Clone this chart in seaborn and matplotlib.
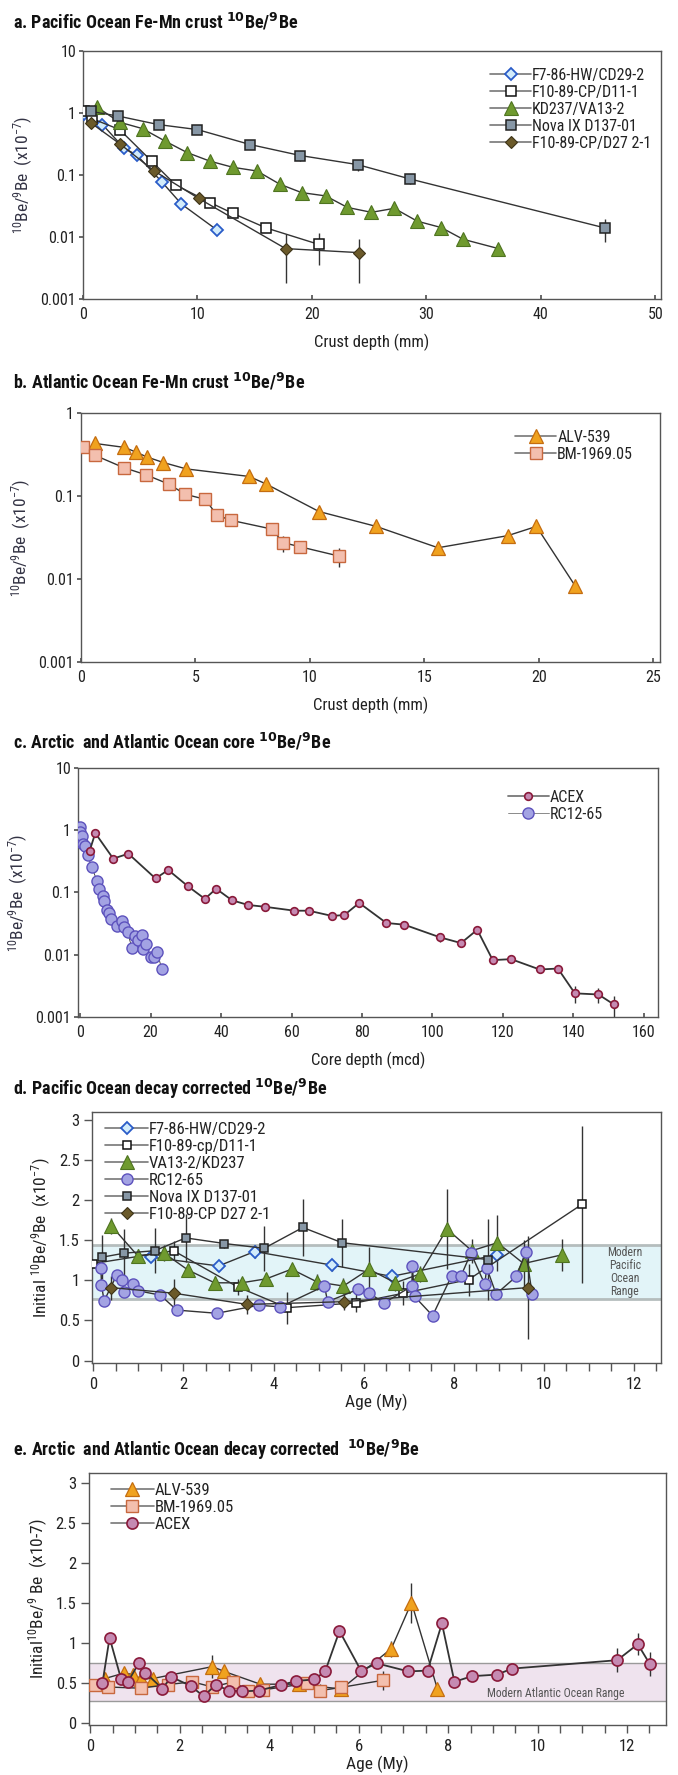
import numpy as np
import pandas as pd
import matplotlib
matplotlib.use("Agg")
import matplotlib.pyplot as plt
from matplotlib import font_manager as fm
from matplotlib.ticker import FixedLocator, FuncFormatter, MultipleLocator, NullLocator
import seaborn as sns

# ---------------- data ----------------
# a. Pacific Fe-Mn crusts (depth mm, 10Be/9Be x1e-7)
a_f7_x = [0.1, 1.7, 3.6, 4.7, 6.9, 8.6, 11.7]
a_f7_y = [0.95, 0.65, 0.27, 0.21, 0.077, 0.034, 0.013]
a_f7_e = [0, 0, 0, 0, 0, 0, 0]
a_d11_x = [0.1, 0.8, 3.2, 6.0, 8.1, 11.1, 13.1, 16.0, 20.6]
a_d11_y = [1.06, 0.81, 0.54, 0.167, 0.069, 0.036, 0.024, 0.014, 0.0076]
a_d11_e = [0, 0, 0, 0.015, 0.006, 0.003, 0, 0, 0.004]
a_kd_x = [1.2, 3.2, 5.2, 7.2, 9.1, 11.1, 13.1, 15.2, 17.2, 19.1, 21.2, 23.1, 25.2, 27.2, 29.2, 31.3, 33.2, 36.3]
a_kd_y = [1.25, 0.71, 0.56, 0.35, 0.23, 0.167, 0.133, 0.116, 0.071, 0.052, 0.046, 0.030, 0.025, 0.029,
          0.018, 0.0142, 0.0092, 0.0065]
a_kd_e = [0, 0, 0, 0, 0, 0, 0, 0, 0, 0, 0.006, 0, 0, 0.006, 0, 0.002, 0, 0]
a_nova_x = [0.7, 3.1, 6.6, 10.0, 14.6, 19.0, 24.0, 28.6, 45.6]
a_nova_y = [1.06, 0.89, 0.65, 0.54, 0.31, 0.206, 0.147, 0.086, 0.014]
a_nova_e = [0, 0.05, 0.08, 0.08, 0.03, 0.04, 0.03, 0.015, 0.0057]
a_d27_x = [0.7, 3.2, 6.2, 10.1, 17.7, 24.1]
a_d27_y = [0.69, 0.32, 0.117, 0.042, 0.0065, 0.0056]
a_d27_e = [0.1, 0.03, 0.01, 0.004, 0.0047, 0.0038]

# b. Atlantic Fe-Mn crusts
b_alv_x = [0.6, 1.9, 2.4, 2.9, 3.6, 4.6, 7.35, 8.1, 10.4, 12.9, 15.6, 18.65, 19.9, 21.6]
b_alv_y = [0.43, 0.385, 0.338, 0.294, 0.253, 0.212, 0.172, 0.139, 0.065, 0.043, 0.0238, 0.0333, 0.043, 0.0082]
b_alv_e = [0, 0, 0, 0, 0, 0, 0.03, 0, 0, 0.007, 0, 0, 0, 0.0012]
b_bm_x = [0.1, 0.6, 1.86, 2.84, 3.84, 4.55, 5.44, 5.93, 6.55, 8.33, 8.84, 9.56, 11.27]
b_bm_y = [0.39, 0.31, 0.22, 0.18, 0.139, 0.105, 0.091, 0.059, 0.051, 0.040, 0.0274, 0.0245, 0.0189]
b_bm_e = [0, 0, 0.03, 0, 0, 0, 0, 0.008, 0, 0, 0.006, 0.004, 0.005]

# c. Arctic and Atlantic cores (depth mcd)
c_acex_x = [2.7, 4.3, 9.4, 13.7, 21.4, 25.0, 30.6, 35.4, 38.6, 43.1, 47.7, 52.4, 60.8, 64.9, 71.5, 75.0,
            79.2, 86.9, 92.0, 102.2, 108.1, 112.7, 117.1, 122.3, 130.4, 135.6, 140.4, 147.1, 151.4]
c_acex_y = [0.466, 0.90, 0.35, 0.42, 0.168, 0.23, 0.126, 0.079, 0.115, 0.075, 0.063, 0.059, 0.051, 0.051,
            0.042, 0.0435, 0.068, 0.0324, 0.0304, 0.019, 0.0154, 0.0252, 0.0082, 0.0085, 0.0058, 0.006,
            0.0024, 0.0023, 0.0016]
c_acex_e = [0] * 19 + [0.003, 0.002, 0, 0.001, 0, 0, 0, 0.0007, 0.0006, 0.0006]
c_rc_x = [0.0, 0.1, 0.2, 0.4, 0.9, 1.5, 2.1, 3.3, 4.8, 5.5, 6.5, 6.7, 7.6, 8.2, 8.9, 10.4, 11.9, 12.4, 13.5,
          14.7, 15.5, 16.5, 17.6, 17.8, 18.6, 20.1, 21.1, 21.9, 23.1]
c_rc_y = [1.14, 0.95, 0.68, 0.81, 0.60, 0.56, 0.40, 0.26, 0.152, 0.115, 0.087, 0.072, 0.053, 0.046, 0.0375,
          0.0285, 0.035, 0.0279, 0.0229, 0.0127, 0.0197, 0.0174, 0.0207, 0.0123, 0.0148, 0.0093, 0.0093,
          0.0112, 0.006]

# d. Pacific decay corrected (age My)
d_f7_x = [1.28, 2.78, 3.58, 5.30, 6.62, 8.97]
d_f7_y = [1.29, 1.18, 1.36, 1.19, 1.05, 1.32]
d_f7_e = [0.06, 0.05, 0.08, 0.07, 0.06, 0.07]
d_d11_x = [0.0, 1.78, 3.2, 4.3, 5.83, 6.88, 8.33, 10.85]
d_d11_y = [1.21, 1.37, 0.92, 0.66, 0.72, 0.84, 1.01, 1.95]
d_d11_e = [0, 0.12, 0.1, 0.2, 0.12, 0.15, 0.2, 0.98]
d_va_x = [0.40, 0.98, 1.57, 2.10, 2.69, 3.29, 3.84, 4.40, 4.97, 5.55, 6.12, 6.70, 7.25, 7.85, 8.40, 8.97, 9.55, 10.41]
d_va_y = [1.68, 1.31, 1.34, 1.13, 0.97, 0.97, 1.02, 1.14, 0.98, 0.93, 1.14, 0.97, 1.08, 1.64, 1.37, 1.47, 1.21, 1.32]
d_va_e = [0.1, 0.08, 0.1, 0.08, 0.08, 0.06, 0.07, 0.07, 0.1, 0.1, 0.28, 0.1, 0.1, 0.5, 0.15, 0.35, 0.3, 0.2]
d_rc_x = [0.17, 0.18, 0.24, 0.52, 0.63, 0.69, 0.87, 1.0, 1.49, 1.85, 2.74, 3.67, 4.15, 5.13, 5.2, 5.88, 6.12,
          6.46, 7.07, 7.08, 7.13, 7.53, 7.95, 8.16, 8.38, 8.69, 8.73, 8.94, 9.39, 9.6, 9.74]
d_rc_y = [1.155, 0.94, 0.745, 1.07, 1.0, 0.85, 0.955, 0.87, 0.816, 0.63, 0.59, 0.69, 0.67, 0.93, 0.735, 0.89,
          0.84, 0.72, 0.93, 1.18, 0.80, 0.56, 1.055, 1.055, 1.34, 0.95, 1.16, 0.83, 1.05, 1.36, 0.83]
d_rc_e = [0.06] * 31
d_nova_x = [0.20, 0.69, 1.36, 2.05, 2.91, 3.79, 4.65, 5.52, 8.75]
d_nova_y = [1.29, 1.34, 1.37, 1.53, 1.46, 1.40, 1.66, 1.47, 1.26]
d_nova_e = [0.27, 0.3, 0.28, 0.3, 0.05, 0.28, 0.35, 0.3, 0.5]
d_d27_x = [0.40, 1.79, 3.42, 5.57, 9.64]
d_d27_y = [0.91, 0.84, 0.70, 0.735, 0.91]
d_d27_e = [0.15, 0.18, 0.12, 0.1, 0.64]
d_band = [0.77, 1.44]

# e. Arctic and Atlantic decay corrected
e_alv_x = [0.32, 0.76, 0.95, 1.13, 1.39, 2.73, 2.99, 3.80, 4.66, 5.61, 6.73, 7.18, 7.76]
e_alv_y = [0.55, 0.62, 0.60, 0.55, 0.55, 0.70, 0.64, 0.48, 0.48, 0.42, 0.925, 1.50, 0.42]
e_alv_e = [0, 0, 0, 0, 0, 0.14, 0, 0.04, 0.04, 0, 0.1, 0.25, 0.06]
e_bm_x = [0.10, 0.39, 1.13, 1.73, 2.28, 2.73, 3.20, 3.53, 3.87, 4.85, 5.14, 5.61, 6.55]
e_bm_y = [0.465, 0.445, 0.43, 0.475, 0.51, 0.445, 0.51, 0.40, 0.41, 0.49, 0.40, 0.44, 0.53]
e_bm_e = [0, 0, 0, 0, 0, 0, 0, 0, 0, 0, 0.08, 0, 0.12]
e_acex_x = [0.27, 0.43, 0.69, 0.84, 1.08, 1.23, 1.61, 1.81, 2.24, 2.53, 2.80, 3.11, 3.40, 3.76, 4.27, 4.60,
            5.01, 5.25, 5.57, 6.05, 6.41, 7.11, 7.54, 7.86, 8.14, 8.53, 9.09, 9.43, 11.78, 12.24, 12.51]
e_acex_y = [0.49, 1.06, 0.54, 0.51, 0.74, 0.625, 0.425, 0.57, 0.46, 0.33, 0.47, 0.40, 0.39, 0.40, 0.47, 0.52,
            0.54, 0.64, 1.145, 0.65, 0.74, 0.64, 0.65, 1.24, 0.51, 0.58, 0.60, 0.675, 0.78, 0.98, 0.73]
e_acex_e = [0, 0.03, 0, 0, 0.05, 0, 0, 0, 0, 0, 0, 0, 0, 0, 0, 0, 0, 0, 0.05, 0, 0, 0, 0, 0.05, 0, 0, 0, 0,
            0.15, 0.14, 0.15]
e_band = [0.27, 0.745]

log_ticks = [0.001, 0.01, 0.1, 1, 10]

# ---------------- style ----------------
sns.set_theme(style="ticks")
names = {f.name for f in fm.fontManager.ttflist}
fam = [f for f in ["Liberation Sans Narrow", "Roboto Condensed", "Liberation Sans", "DejaVu Sans"] if f in names]
plt.rcParams["font.family"] = fam
plt.rcParams["mathtext.default"] = "regular"
plt.rcParams["axes.edgecolor"] = "#555555"
plt.rcParams["axes.linewidth"] = 1.0
plt.rcParams["xtick.color"] = "#555555"
plt.rcParams["ytick.color"] = "#555555"
plt.rcParams["xtick.labelcolor"] = "#222222"
plt.rcParams["ytick.labelcolor"] = "#222222"

LINE = "#333333"
STY = {
    "f7": dict(marker="D", markersize=6.0, markerfacecolor="#d2ecfb", markeredgecolor="#2a5cc8", markeredgewidth=1.3),
    "d11": dict(marker="s", markersize=6.5, markerfacecolor="white", markeredgecolor="#111111", markeredgewidth=1.1),
    "kd": dict(marker="^", markersize=9.5, markerfacecolor="#6f9a2f", markeredgecolor="#4e7420", markeredgewidth=0.8),
    "nova": dict(marker="s", markersize=6.5, markerfacecolor="#8797a6", markeredgecolor="#222222", markeredgewidth=1.1),
    "d27": dict(marker="D", markersize=6.5, markerfacecolor="#6b5a2a", markeredgecolor="#3d3318", markeredgewidth=0.8),
    "rc": dict(marker="o", markersize=8.0, markerfacecolor="#a3a3e3", markeredgecolor="#5d52bd", markeredgewidth=1.0),
    "alv": dict(marker="^", markersize=9.5, markerfacecolor="#f0a21f", markeredgecolor="#c46d10", markeredgewidth=0.9),
    "bm": dict(marker="s", markersize=8.0, markerfacecolor="#f3bfae", markeredgecolor="#c8683e", markeredgewidth=1.0),
    "acex": dict(marker="o", markersize=6.0, markerfacecolor="#c58ab2", markeredgecolor="#8a1a3a", markeredgewidth=1.2),
}

W, H = 678, 1775
fig = plt.figure(figsize=(W / 100, H / 100), dpi=100)
fig.patch.set_facecolor("white")


def add_ax(l, r, t, b):
    return fig.add_axes([l / W, 1 - b / H, (r - l) / W, (b - t) / H])


def draw(ax, x, y, e, label, key, ms=None, lw=1.0, line=True):
    df = pd.DataFrame({"x": x, "y": y})
    st = dict(STY[key])
    if ms is not None:
        st["markersize"] = ms
    if e is not None and any(v > 0 for v in e):
        ax.errorbar(x, y, yerr=e, fmt="none", ecolor=LINE, elinewidth=1.0, capsize=0, zorder=1)
    sns.lineplot(data=df, x="x", y="y", ax=ax, sort=False, estimator=None, errorbar=None,
                 color=LINE, linewidth=lw if line else 0, label=label, zorder=3, clip_on=True, **st)


def log_axis(ax, ymax):
    ax.set_yscale("log")
    ax.set_ylim(0.001, ymax)
    ax.yaxis.set_major_locator(FixedLocator([t for t in log_ticks if t <= ymax]))
    ax.yaxis.set_major_formatter(FuncFormatter(lambda v, p: "%g" % v))
    ax.yaxis.set_minor_locator(NullLocator())
    ax.tick_params(axis="x", direction="in", length=3, labelsize=11.5, pad=6)
    ax.tick_params(axis="y", direction="out", length=3, labelsize=11.5, pad=2)


def leg(ax, loc, anchor, fs=11.5):
    h, l = ax.get_legend_handles_labels()
    lg = ax.legend(h, l, loc=loc, bbox_to_anchor=anchor, frameon=False, fontsize=fs,
                   handlelength=2.6, handletextpad=0.05, labelspacing=0.12, borderaxespad=0.2)
    for ln in lg.get_lines():
        ln.set_color("#777777")
        ln.set_linewidth(1.2)
    for t in lg.get_texts():
        t.set_color("#222222")


YL = "$^{10}$Be/$^{9}$Be  (x10$^{-7}$)"
TFS = 13

# ---------- a ----------
ax = add_ax(83, 661, 51, 299)
draw(ax, a_f7_x, a_f7_y, a_f7_e, "F7-86-HW/CD29-2", "f7")
draw(ax, a_d11_x, a_d11_y, a_d11_e, "F10-89-CP/D11-1", "d11")
draw(ax, a_kd_x, a_kd_y, a_kd_e, "KD237/VA13-2", "kd")
draw(ax, a_nova_x, a_nova_y, a_nova_e, "Nova IX D137-01", "nova")
draw(ax, a_d27_x, a_d27_y, a_d27_e, "F10-89-CP/D27 2-1", "d27")
log_axis(ax, 10)
ax.set_xlim(0, 50.5)
ax.xaxis.set_major_locator(MultipleLocator(10))
ax.set_xlabel("Crust depth (mm)", fontsize=12, color="#222222", labelpad=8)
ax.set_ylabel(YL, fontsize=12.5, color="#333344", labelpad=4)
leg(ax, "upper right", (1.0, 0.97))
fig.text(13 / W, 1 - 22 / H, "a. Pacific Ocean Fe-Mn crust $\\mathbf{^{10}}$Be/$\\mathbf{^{9}}$Be",
         fontsize=TFS, fontweight="bold", va="center", ha="left", color="#111111")

# ---------- b ----------
ax = add_ax(81, 660, 413, 662)
draw(ax, b_alv_x, b_alv_y, b_alv_e, "ALV-539", "alv")
draw(ax, b_bm_x, b_bm_y, b_bm_e, "BM-1969.05", "bm")
log_axis(ax, 1)
ax.set_xlim(0, 25.3)
ax.xaxis.set_major_locator(MultipleLocator(5))
ax.set_xlabel("Crust depth (mm)", fontsize=12, color="#222222", labelpad=8)
ax.set_ylabel(YL, fontsize=12.5, color="#333344", labelpad=4)
leg(ax, "upper right", (0.97, 0.97))
fig.text(13 / W, 1 - 382 / H, "b. Atlantic Ocean Fe-Mn crust $\\mathbf{^{10}}$Be/$\\mathbf{^{9}}$Be",
         fontsize=TFS, fontweight="bold", va="center", ha="left", color="#111111")

# ---------- c ----------
ax = add_ax(78, 658, 768, 1017)
draw(ax, c_rc_x, c_rc_y, None, "RC12-65", "rc", ms=8.0, lw=0.6)
draw(ax, c_acex_x, c_acex_y, c_acex_e, "ACEX", "acex", ms=5.5, lw=1.3)
log_axis(ax, 10)
ax.set_xlim(-0.6, 164)
ax.xaxis.set_major_locator(MultipleLocator(20))
ax.set_xlabel("Core depth (mcd)", fontsize=12, color="#222222", labelpad=8)
ax.set_ylabel(YL, fontsize=12.5, color="#333344", labelpad=4)
h, l = ax.get_legend_handles_labels()
ax.legend(h[::-1], l[::-1], loc="upper right", bbox_to_anchor=(0.93, 0.97), frameon=False, fontsize=11.5,
          handlelength=2.6, handletextpad=0.05, labelspacing=0.12)
for ln in ax.get_legend().get_lines():
    ln.set_color("#777777")
fig.text(13 / W, 1 - 742 / H, "c. Arctic  and Atlantic Ocean core $\\mathbf{^{10}}$Be/$\\mathbf{^{9}}$Be",
         fontsize=TFS, fontweight="bold", va="center", ha="left", color="#111111")


def lin_axis(ax, xmax, ymax):
    ax.set_xlim(-0.03, xmax)
    ax.set_ylim(-0.03, ymax)
    ax.xaxis.set_major_locator(MultipleLocator(2))
    ax.xaxis.set_minor_locator(MultipleLocator(0.5))
    ax.yaxis.set_major_locator(MultipleLocator(0.5))
    ax.yaxis.set_major_formatter(FuncFormatter(lambda v, p: "%g" % v))
    ax.tick_params(axis="x", which="both", direction="out", length=6, width=1.0, labelsize=12, pad=4)
    ax.tick_params(axis="y", direction="out", length=6, width=1.0, labelsize=12, pad=3)


# ---------- d ----------
ax = add_ax(92, 661, 1112, 1363)
ax.axhspan(d_band[0], d_band[1], facecolor="#e2f4f8", edgecolor="none", zorder=0)
for v in d_band:
    ax.axhline(v, color="#b5bdbd", lw=2.0, zorder=0.5)
draw(ax, d_f7_x, d_f7_y, d_f7_e, "F7-86-HW/CD29-2", "f7", ms=6.0)
draw(ax, d_d11_x, d_d11_y, d_d11_e, "F10-89-cp/D11-1", "d11", ms=6.0)
draw(ax, d_va_x, d_va_y, d_va_e, "VA13-2/KD237", "kd", ms=9.5)
draw(ax, d_rc_x, d_rc_y, d_rc_e, "RC12-65", "rc", ms=8.0)
draw(ax, d_nova_x, d_nova_y, d_nova_e, "Nova IX D137-01", "nova", ms=6.0)
draw(ax, d_d27_x, d_d27_y, d_d27_e, "F10-89-CP D27 2-1", "d27", ms=6.0)
lin_axis(ax, 12.6, 3.1)
ax.text(11.8, 1.10, "Modern\nPacific\nOcean\nRange", ha="center", va="center", fontsize=8.5,
        color="#555555", linespacing=1.0)
ax.set_xlabel("Age (My)", fontsize=12.5, color="#222222", labelpad=1)
ax.set_ylabel("Initial $^{10}$Be/$^{9}$Be  (x10$^{-7}$)", fontsize=12.5, color="#222222", labelpad=4)
leg(ax, "upper left", (0.005, 1.0), fs=12)
fig.text(13 / W, 1 - 1089 / H, "d. Pacific Ocean decay corrected $\\mathbf{^{10}}$Be/$\\mathbf{^{9}}$Be",
         fontsize=TFS, fontweight="bold", va="center", ha="left", color="#111111")

# ---------- e ----------
ax = add_ax(89, 666, 1473, 1725)
ax.axhspan(e_band[0], e_band[1], facecolor="#efe3ee", edgecolor="none", zorder=0)
for v in e_band:
    ax.axhline(v, color="#9a9a9a", lw=1.0, zorder=0.5)
draw(ax, e_alv_x, e_alv_y, e_alv_e, "ALV-539", "alv", ms=9.5)
draw(ax, e_bm_x, e_bm_y, e_bm_e, "BM-1969.05", "bm", ms=8.0)
draw(ax, e_acex_x, e_acex_y, e_acex_e, "ACEX", "acex", ms=8.0, lw=1.3)
lin_axis(ax, 12.87, 3.12)
ax.text(10.4, 0.365, "Modern Atlantic Ocean Range", ha="center", va="center", fontsize=8.5, color="#555555")
ax.set_xlabel("Age (My)", fontsize=12.5, color="#222222", labelpad=1)
ax.set_ylabel("Initial$^{10}$Be/$^{9}$ Be  (x10-7)", fontsize=12.5, color="#222222", labelpad=4)
leg(ax, "upper left", (0.02, 1.0), fs=12)
fig.text(13 / W, 1 - 1450 / H, "e. Arctic  and Atlantic Ocean decay corrected  $\\mathbf{^{10}}$Be/$\\mathbf{^{9}}$Be",
         fontsize=TFS, fontweight="bold", va="center", ha="left", color="#111111")

fig.savefig("out.png", dpi=100, facecolor="white")
